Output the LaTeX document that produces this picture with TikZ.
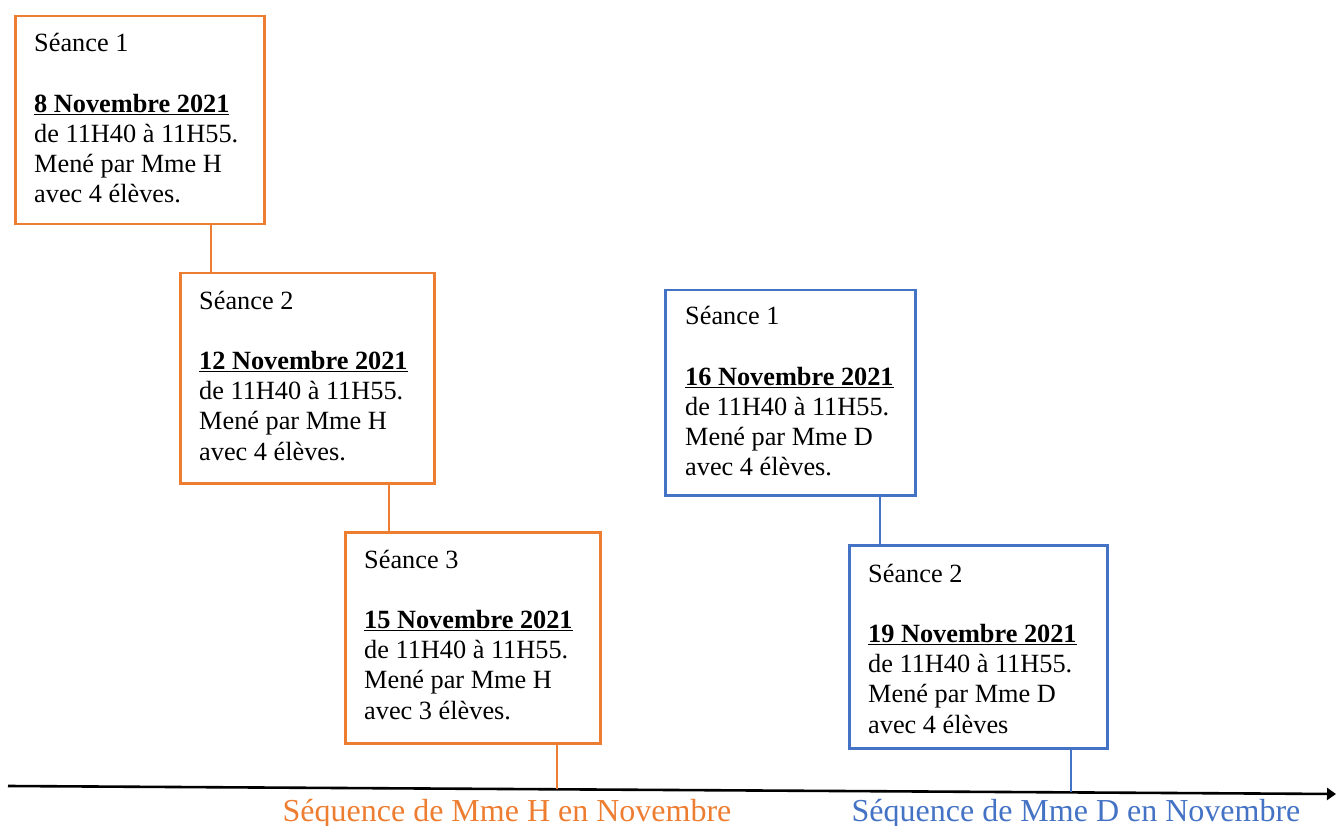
\documentclass[tikz,border=0pt]{standalone}
\usepackage{fontspec}
\setmainfont{Liberation Serif}
\usetikzlibrary{arrows.meta}
\definecolor{orng}{HTML}{ED7D31}
\definecolor{blu}{HTML}{4472C4}
\newcommand{\seancetext}[5]{\begin{tabular}[t]{@{}l@{}}Séance #1\\ \\ \underline{\textbf{#2 Novembre 2021}}\\ de 11H40 à 11H55.\\ Mené par Mme #3\\ avec #4 élèves#5\end{tabular}}
\begin{document}
\begin{tikzpicture}[x=1pt,y=-1pt,
  obox/.style={draw=orng,line width=2.5pt,rectangle,inner sep=0pt,anchor=north west},
  bbox/.style={draw=blu,line width=2.5pt,rectangle,inner sep=0pt,anchor=north west},
  btext/.style={anchor=base west,inner sep=0pt,font=\fontsize{26.3}{30.2}\selectfont},
  oline/.style={draw=orng,line width=1.3pt},
  bline/.style={draw=blu,line width=1.3pt},
  axis/.style={draw=black,line width=2.6pt,-{Triangle[length=9pt,width=12pt]}},
  seq/.style={anchor=base,inner sep=0pt,font=\fontsize{32}{36}\selectfont}]
\useasboundingbox (0,0) rectangle (1336,826);
% boxes
\node[obox,minimum width=249pt,minimum height=208pt] (h1) at (14,15) {};
\node[obox,minimum width=254pt,minimum height=210pt] (h2) at (179,272) {};
\node[obox,minimum width=255pt,minimum height=211pt] (h3) at (344,531) {};
\node[bbox,minimum width=250pt,minimum height=205pt] (d1) at (664,289) {};
\node[bbox,minimum width=258pt,minimum height=203pt] (d2) at (848,544) {};
% texts
\node[btext] (th1) at (34,52) {\seancetext{1}{8}{H}{4}{.}};
\node[btext] (th2) at (199,309) {\seancetext{2}{12}{H}{4}{.}};
\node[btext] (th3) at (364,568) {\seancetext{3}{15}{H}{3}{.}};
\node[btext] (td1) at (685,325) {\seancetext{1}{16}{D}{4}{.}};
\node[btext] (td2) at (868,582) {\seancetext{2}{19}{D}{4}{}};
% axis
\coordinate (axL) at (8,786);
\coordinate (axR) at (1336,794);
\draw[axis] (axL) -- (axR);
\coordinate (x12) at (211,0);
\coordinate (x23) at (389,0);
\coordinate (a3) at (557,789.4);
\coordinate (xd12) at (880,0);
\coordinate (ad2) at (1071,792.4);
% connectors
\draw[oline] (h1.south -| x12) -- (h2.north -| x12);
\draw[oline] (h2.south -| x23) -- (h3.north -| x23);
\draw[oline] (h3.south -| a3) -- (a3);
\draw[bline] (d1.south -| xd12) -- (d2.north -| xd12);
\draw[bline] (d2.south -| ad2) -- (ad2);
% labels
\node[seq,text=orng] (lh) at (507,821) {Séquence de Mme H en Novembre};
\node[seq,text=blu] (ld) at (1076,821) {Séquence de Mme D en Novembre};
\end{tikzpicture}
\end{document}
